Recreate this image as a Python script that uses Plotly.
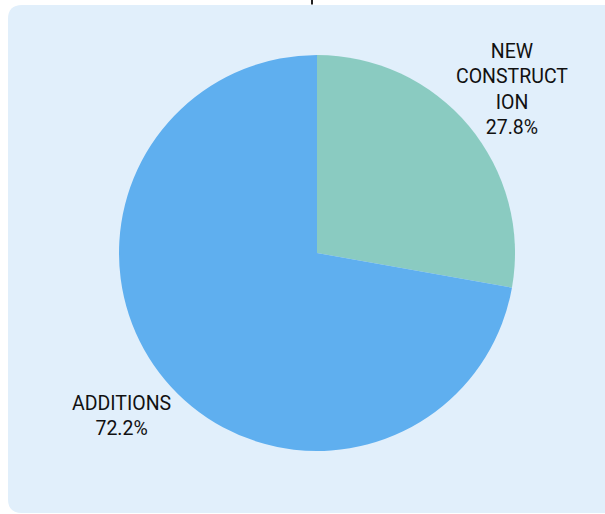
import math
import plotly.graph_objects as go

labels = ["NEW CONSTRUCTION", "ADDITIONS"]
label_text = ["NEW<br>CONSTRUCT<br>ION", "ADDITIONS"]
values = [27.8, 72.2]
colors = ["#8ACBC1", "#5FAFEF"]

W, H = 605, 514

def px(x):
    return x / W

def py(y):
    return 1 - y / H

# rounded panel path (paper coords)
x0, x1, y0, y1, r = 8, 640, 5, 513, 14
path = (
    f"M {px(x0 + r)} {py(y0)} L {px(x1)} {py(y0)} L {px(x1)} {py(y1)} "
    f"L {px(x0 + r)} {py(y1)} Q {px(x0)} {py(y1)} {px(x0)} {py(y1 - r)} "
    f"L {px(x0)} {py(y0 + r)} Q {px(x0)} {py(y0)} {px(x0 + r)} {py(y0)} Z"
)

cx, cy, rad = 317, 253, 198
label_dist = 1.285

fig = go.Figure(
    go.Pie(
        labels=labels,
        values=values,
        textinfo="none",
        marker=dict(colors=colors, line=dict(width=0)),
        sort=False,
        direction="clockwise",
        rotation=0,
        showlegend=False,
        hoverinfo="label+percent",
        domain=dict(x=[px(cx - rad), px(cx + rad)], y=[py(cy + rad), py(cy - rad)]),
    )
)

# labels placed along each slice's mid-angle, outside the pie
total = sum(values)
annotations = []
cum = 0.0
for lab, v in zip(label_text, values):
    mid = (cum + v / 2) / total * 2 * math.pi
    cum += v
    lx = cx + label_dist * rad * math.sin(mid)
    ly = cy - label_dist * rad * math.cos(mid)
    annotations.append(dict(
        x=px(lx), y=py(ly), xref="paper", yref="paper",
        text=f"{lab}<br>{v / total * 100:.1f}%",
        showarrow=False, xanchor="center", yanchor="middle", align="center",
        font=dict(family="Roboto, sans-serif", size=19.5, color="#111111"),
    ))

fig.update_layout(
    width=W,
    height=H,
    margin=dict(l=0, r=0, t=0, b=0),
    paper_bgcolor="white",
    plot_bgcolor="white",
    annotations=annotations,
    shapes=[
        dict(type="path", xref="paper", yref="paper", path=path,
             fillcolor="#E1EFFB", line=dict(width=0), layer="below"),
        dict(type="line", xref="paper", yref="paper",
             x0=px(312), x1=px(312), y0=py(0), y1=py(4.5),
             line=dict(color="#222222", width=2)),
    ],
)

fig.write_html("out.html")
